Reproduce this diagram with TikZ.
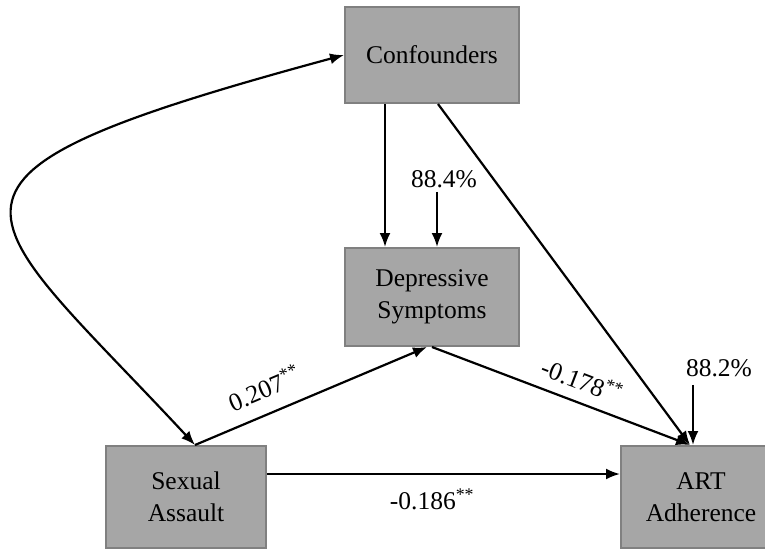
\documentclass[tikz,border=0pt]{standalone}
\usepackage{fontspec}
\setmainfont{Liberation Serif}
\usetikzlibrary{arrows.meta}
\definecolor{boxfill}{HTML}{A6A6A6}
\definecolor{boxline}{HTML}{808080}
\begin{document}
\begin{tikzpicture}[x=1pt,y=-1pt,
  box/.style={draw=boxline, line width=2pt, fill=boxfill, minimum width=174pt, minimum height=96pt, inner sep=0pt, align=center, font=\fontsize{25.5}{32}\selectfont},
  lbl/.style={font=\fontsize{25.5}{30}\selectfont, inner sep=0pt},
  arr/.style={-{Latex[length=14pt,width=11pt]}, line width=2.2pt},
  biarr/.style={{Latex[length=14pt,width=11pt]}-{Latex[length=14pt,width=11pt]}, line width=2.2pt}]
\useasboundingbox (0,0) rectangle (765,549);
\node[box] (conf) at (432,55) {Confounders};
\node[box, minimum height=98pt] (dep) at (432,297) {Depressive\\Symptoms};
\node[box, minimum width=160pt, minimum height=102pt] (sa) at (186,497) {Sexual\\Assault};
\node[box, minimum width=160pt, minimum height=102pt] (art) at (701,497) {ART\\Adherence};
\coordinate (saTop) at ([xshift=9pt]sa.north);
\coordinate (artIn) at ([xshift=-11pt]art.north);
% labels
\node[lbl] (e1) at (444,179) {88.4\%};
\node[lbl] (e2) at (719,368) {88.2\%};
\node[lbl, rotate=23] (l207) at (264,388) {0.207\textsuperscript{**}};
\node[lbl, rotate=-21] (l178) at (582,380) {-0.178\textsuperscript{**}};
\node[lbl] (l186) at (432,499) {-0.186\textsuperscript{**}};
% connectors
\draw[arr] ([xshift=-47pt]conf.south) -- ([xshift=-47pt]dep.north);
\draw[arr] ([xshift=-7pt,yshift=-4pt]e1.south) -- ([xshift=5pt]dep.north);
\draw[arr] ([xshift=6pt]conf.south) -- (artIn);
\draw[arr] (dep.south) -- (artIn);
\draw[arr] ([xshift=-26pt,yshift=-8pt]e2.south) -- ([xshift=-8pt]art.north);
\draw[arr] (saTop) -- ([xshift=-5pt]dep.south);
\draw[arr] ([yshift=23pt]sa.east) -- ([yshift=23pt]art.west);
\draw[biarr] (saTop) .. controls +(-224,-241) and +(-458,124) .. (conf.west);
\end{tikzpicture}
\end{document}
